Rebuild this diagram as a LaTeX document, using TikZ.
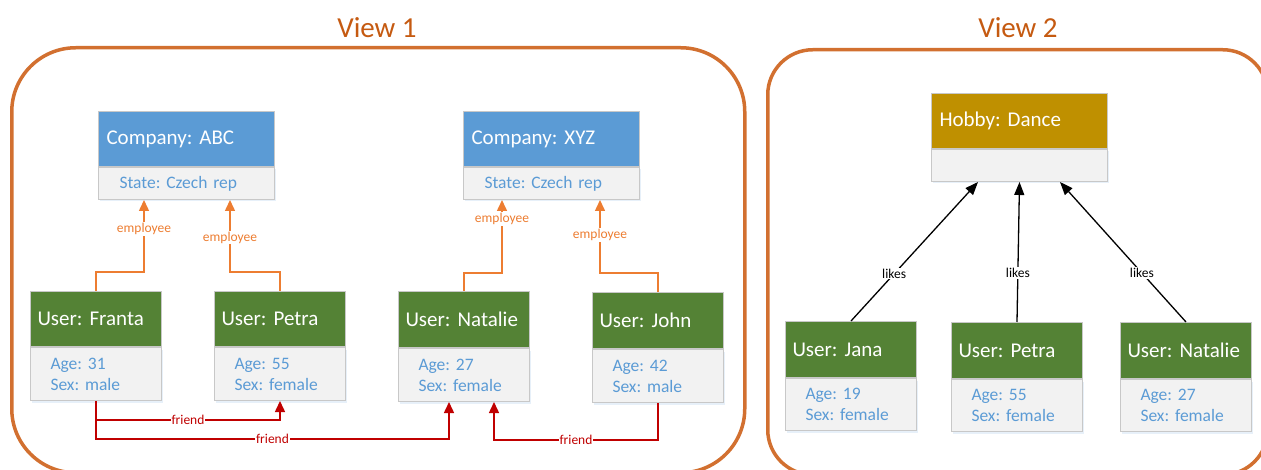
\documentclass[tikz,border=0pt]{standalone}
\usepackage{fontspec}
\setmainfont{Carlito}
\usetikzlibrary{arrows.meta,shadows}

\definecolor{viewc}{RGB}{210,112,48}
\definecolor{viewt}{RGB}{197,90,17}
\definecolor{cblue}{HTML}{5B9BD5}
\definecolor{ugreen}{HTML}{548235}
\definecolor{hgold}{HTML}{BF9000}
\definecolor{bodyc}{HTML}{F2F2F2}
\definecolor{edgec}{HTML}{C8C8C8}
\definecolor{empc}{HTML}{ED7D31}
\definecolor{fric}{HTML}{C00000}

\tikzset{
  viewbox/.style={draw=viewc, line width=3.5pt, rounded corners=#1, anchor=north west, inner sep=0pt},
  vtitle/.style={text=viewt, font=\fontsize{29}{33}\selectfont, inner sep=0pt},
  hdr/.style={draw=edgec, line width=1pt, fill=#1, text=white,
    font=\fontsize{21}{25}\selectfont, align=left, anchor=north west, inner ysep=0pt},
  body/.style={draw=edgec, line width=1pt, fill=bodyc, text=cblue,
    font=\fontsize{17.5}{21}\selectfont, align=left, anchor=north west, inner ysep=0pt,
    drop shadow={shadow xshift=1.5pt, shadow yshift=-2pt, fill=cblue, opacity=0.15}},
  widehdr/.style={text width=160pt, inner xsep=8pt, minimum height=55pt},
  widebody/.style={text width=134pt, inner xsep=21pt, minimum height=32pt},
  userhdr/.style={text width=117pt, inner xsep=7pt, minimum height=#1},
  userbody/.style={text width=91pt, inner xsep=20pt, minimum height=#1},
  tip/.style={-{Triangle[width=10pt,length=11pt]}},
  emp/.style={draw=empc, line width=1.5pt, tip},
  fri/.style={draw=fric, line width=1.5pt, tip},
  lk/.style={draw=black, line width=1.3pt, -{Triangle[width=10pt,length=13pt]}},
  elab/.style={font=\fontsize{13.5}{16}\selectfont, text=empc, fill=white, inner sep=1pt},
  flab/.style={font=\fontsize{13.5}{16}\selectfont, text=fric, fill=white, inner sep=1pt},
  klab/.style={font=\fontsize{13.5}{16}\selectfont, text=black, fill=white, inner sep=1pt},
}

\begin{document}
\frenchspacing
\begin{tikzpicture}[x=1pt, y=-1pt]
  \useasboundingbox (0,0) rectangle (1261,470);
  \clip (0,0) rectangle (1261,470);

  % the two views
  \node[viewbox=64pt, minimum width=733pt, minimum height=425pt] (view1) at (10,46) {};
  \node[viewbox=45pt, minimum width=500pt, minimum height=425pt] (view2) at (766,48) {};
  \node[vtitle] (v1title) at (377,28) {View 1};
  \node[vtitle] (v2title) at (1018,28) {View 2};

  % companies
  \node[hdr=cblue, widehdr] (abc) at (98,111) {Company: ABC};
  \node[body, widebody] (abcb) at (abc.south west) {State: Czech rep};
  \node[hdr=cblue, widehdr] (xyz) at (463,111) {Company: XYZ};
  \node[body, widebody] (xyzb) at (xyz.south west) {State: Czech rep};

  % users of view 1
  \node[hdr=ugreen, userhdr=55pt] (fr) at (30,291) {User: Franta};
  \node[body, userbody=53pt] (frb) at (fr.south west) {Age: 31\\Sex: male};
  \node[hdr=ugreen, userhdr=55pt] (pet) at (214,291) {User: Petra};
  \node[body, userbody=53pt] (petb) at (pet.south west) {Age: 55\\Sex: female};
  \node[hdr=ugreen, userhdr=56pt] (nat) at (398,291) {User: Natalie};
  \node[body, userbody=53pt] (natb) at (nat.south west) {Age: 27\\Sex: female};
  \node[hdr=ugreen, userhdr=56pt] (john) at (592,292) {User: John};
  \node[body, userbody=53pt] (johnb) at (john.south west) {Age: 42\\Sex: male};

  % employment
  \draw[emp] (fr.north) -- ++(0,-19) -| node[elab, pos=0.8] {employee} ([xshift=46pt]abcb.south west);
  \draw[emp] (pet.north) -- ++(0,-19) -| node[elab, pos=0.74] {employee} ([xshift=132pt]abcb.south west);
  \draw[emp] (nat.north) -- ++(0,-18) -| node[elab, pos=0.87] {employee} ([xshift=39pt]xyzb.south west);
  \draw[emp] (john.north) -- ++(0,-19) -| node[elab, pos=0.76] {employee} ([xshift=137pt]xyzb.south west);

  % friendships
  \draw[fri] (frb.south) -- ++(0,19) -| node[flab, pos=0.25] {friend} (petb.south);
  \draw[fri] (frb.south) -- ++(0,38) -| node[flab, pos=0.25] {friend} ([xshift=51pt]natb.south west);
  \draw[fri] (johnb.south) -- ++(0,37) -| node[flab, pos=0.25] {friend} ([xshift=96pt]natb.south west);

  % hobby
  \node[hdr=hgold, widehdr] (hob) at (931,93) {Hobby: Dance};
  \node[body, widebody] (hobb) at (hob.south west) {};

  % users of view 2
  \node[hdr=ugreen, userhdr=56pt] (jana) at (785,321) {User: Jana};
  \node[body, userbody=52pt] (janab) at (jana.south west) {Age: 19\\Sex: female};
  \node[hdr=ugreen, userhdr=56pt] (pet2) at (951,322) {User: Petra};
  \node[body, userbody=52pt] (pet2b) at (pet2.south west) {Age: 55\\Sex: female};
  \node[hdr=ugreen, userhdr=56pt] (nat2) at (1120,322) {User: Natalie};
  \node[body, userbody=52pt] (nat2b) at (nat2.south west) {Age: 27\\Sex: female};

  % likes
  \draw[lk] (jana.north) -- node[klab, pos=0.34] {likes} ([xshift=47pt]hobb.south west);
  \draw[lk] (pet2.north) -- node[klab, pos=0.35] {likes} (hobb.south);
  \draw[lk] (nat2.north) -- node[klab, pos=0.35] {likes} ([xshift=129pt]hobb.south west);
\end{tikzpicture}
\end{document}
